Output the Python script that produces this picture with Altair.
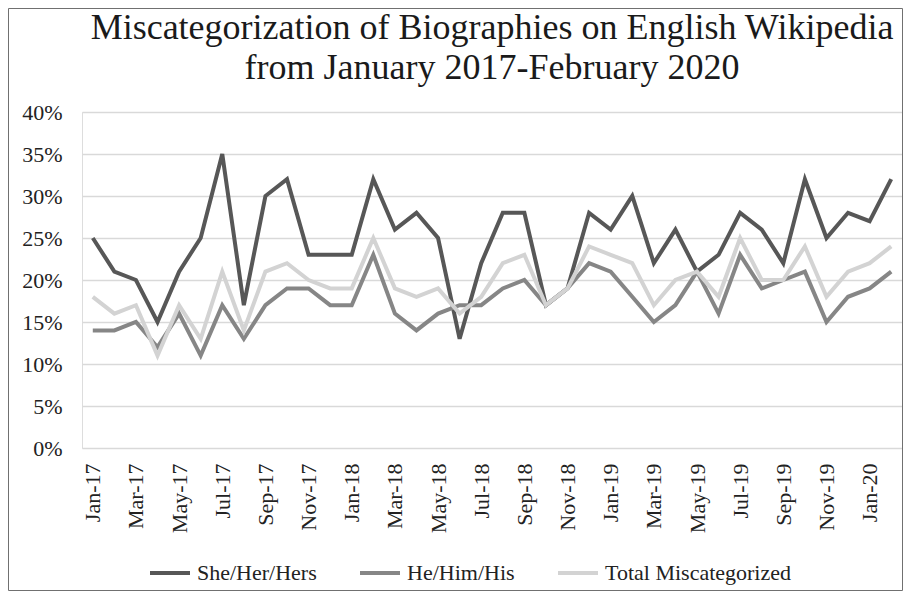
import altair as alt
import pandas as pd

months = [
    "Jan-17", "Feb-17", "Mar-17", "Apr-17", "May-17", "Jun-17", "Jul-17", "Aug-17", "Sep-17", "Oct-17", "Nov-17", "Dec-17",
    "Jan-18", "Feb-18", "Mar-18", "Apr-18", "May-18", "Jun-18", "Jul-18", "Aug-18", "Sep-18", "Oct-18", "Nov-18", "Dec-18",
    "Jan-19", "Feb-19", "Mar-19", "Apr-19", "May-19", "Jun-19", "Jul-19", "Aug-19", "Sep-19", "Oct-19", "Nov-19", "Dec-19",
    "Jan-20", "Feb-20",
]
she = [25, 21, 20, 15, 21, 25, 35, 17, 30, 32, 23, 23,
       23, 32, 26, 28, 25, 13, 22, 28, 28, 17, 19, 28,
       26, 30, 22, 26, 21, 23, 28, 26, 22, 32, 25, 28,
       27, 32]
he = [14, 14, 15, 12, 16, 11, 17, 13, 17, 19, 19, 17,
      17, 23, 16, 14, 16, 17, 17, 19, 20, 17, 19, 22,
      21, 18, 15, 17, 21, 16, 23, 19, 20, 21, 15, 18,
      19, 21]
total = [18, 16, 17, 11, 17, 13, 21, 14, 21, 22, 20, 19,
         19, 25, 19, 18, 19, 16, 18, 22, 23, 17, 19, 24,
         23, 22, 17, 20, 21, 18, 25, 20, 20, 24, 18, 21,
         22, 24]
series_names = ["She/Her/Hers", "He/Him/His", "Total Miscategorized"]
series_colors = ["#575757", "#868686", "#d3d3d3"]
y_ticks = [0, 0.05, 0.10, 0.15, 0.20, 0.25, 0.30, 0.35, 0.40]
title_lines = ["Miscategorization of Biographies on English Wikipedia",
               "from January 2017-February 2020"]

rows = []
for name, vals in zip(series_names, [she, he, total]):
    for m, v in zip(months, vals):
        rows.append({"month": m, "series": name, "value": v / 100})
df = pd.DataFrame(rows)

FONT = "Liberation Serif"

lines = alt.Chart(df).mark_line(strokeWidth=4).encode(
    x=alt.X("month:O", sort=months, scale=alt.Scale(type="point", padding=0.5),
            axis=alt.Axis(title=None, values=months[::2], labelAngle=270, labelFont=FONT,
                          labelFontSize=22, labelColor="#222222", labelPadding=15,
                          ticks=False, domain=False, grid=False)),
    y=alt.Y("value:Q", scale=alt.Scale(domain=[0, 0.4], nice=False),
            axis=alt.Axis(title=None, values=y_ticks, format=".0%", labelFont=FONT,
                          labelFontSize=22, labelColor="#222222", labelPadding=20,
                          ticks=False, domain=False, gridColor="#d9d9d9", gridWidth=1.3)),
    color=alt.Color("series:N", sort=series_names,
                    scale=alt.Scale(domain=series_names, range=series_colors),
                    legend=alt.Legend(title=None, orient="none", legendX=66, legendY=439,
                                      direction="horizontal", symbolType="stroke",
                                      symbolStrokeWidth=4, symbolSize=1600,
                                      labelFont=FONT, labelFontSize=22, labelColor="#222222",
                                      labelOffset=5, columnPadding=35, padding=0,
                                      labelLimit=400)),
    order=alt.Order("idx:Q"),
).transform_calculate(idx="indexof(" + str(months) + ", datum.month)")

frame = alt.Chart(alt.Data(values=[{}])).mark_rect(
    fill=None, stroke="#707070", strokeWidth=1
).encode(
    x=alt.value(-73.5), x2=alt.value(820.5), y=alt.value(-103.5), y2=alt.value(478.5)
)

chart = alt.layer(frame, lines).properties(
    width=820, height=336,
    autosize=alt.AutoSizeParams(type="none"),
    padding={"left": 74, "top": 104, "right": 1, "bottom": 143},
    title=alt.Title(title_lines, font=FONT, fontSize=36, fontWeight="normal", color="#1a1a1a",
                    anchor="middle", lineHeight=40, offset=-79),
).configure_view(stroke=None).configure(background="white")

chart.save("out.html", embed_options={"renderer": "svg", "actions": False})
